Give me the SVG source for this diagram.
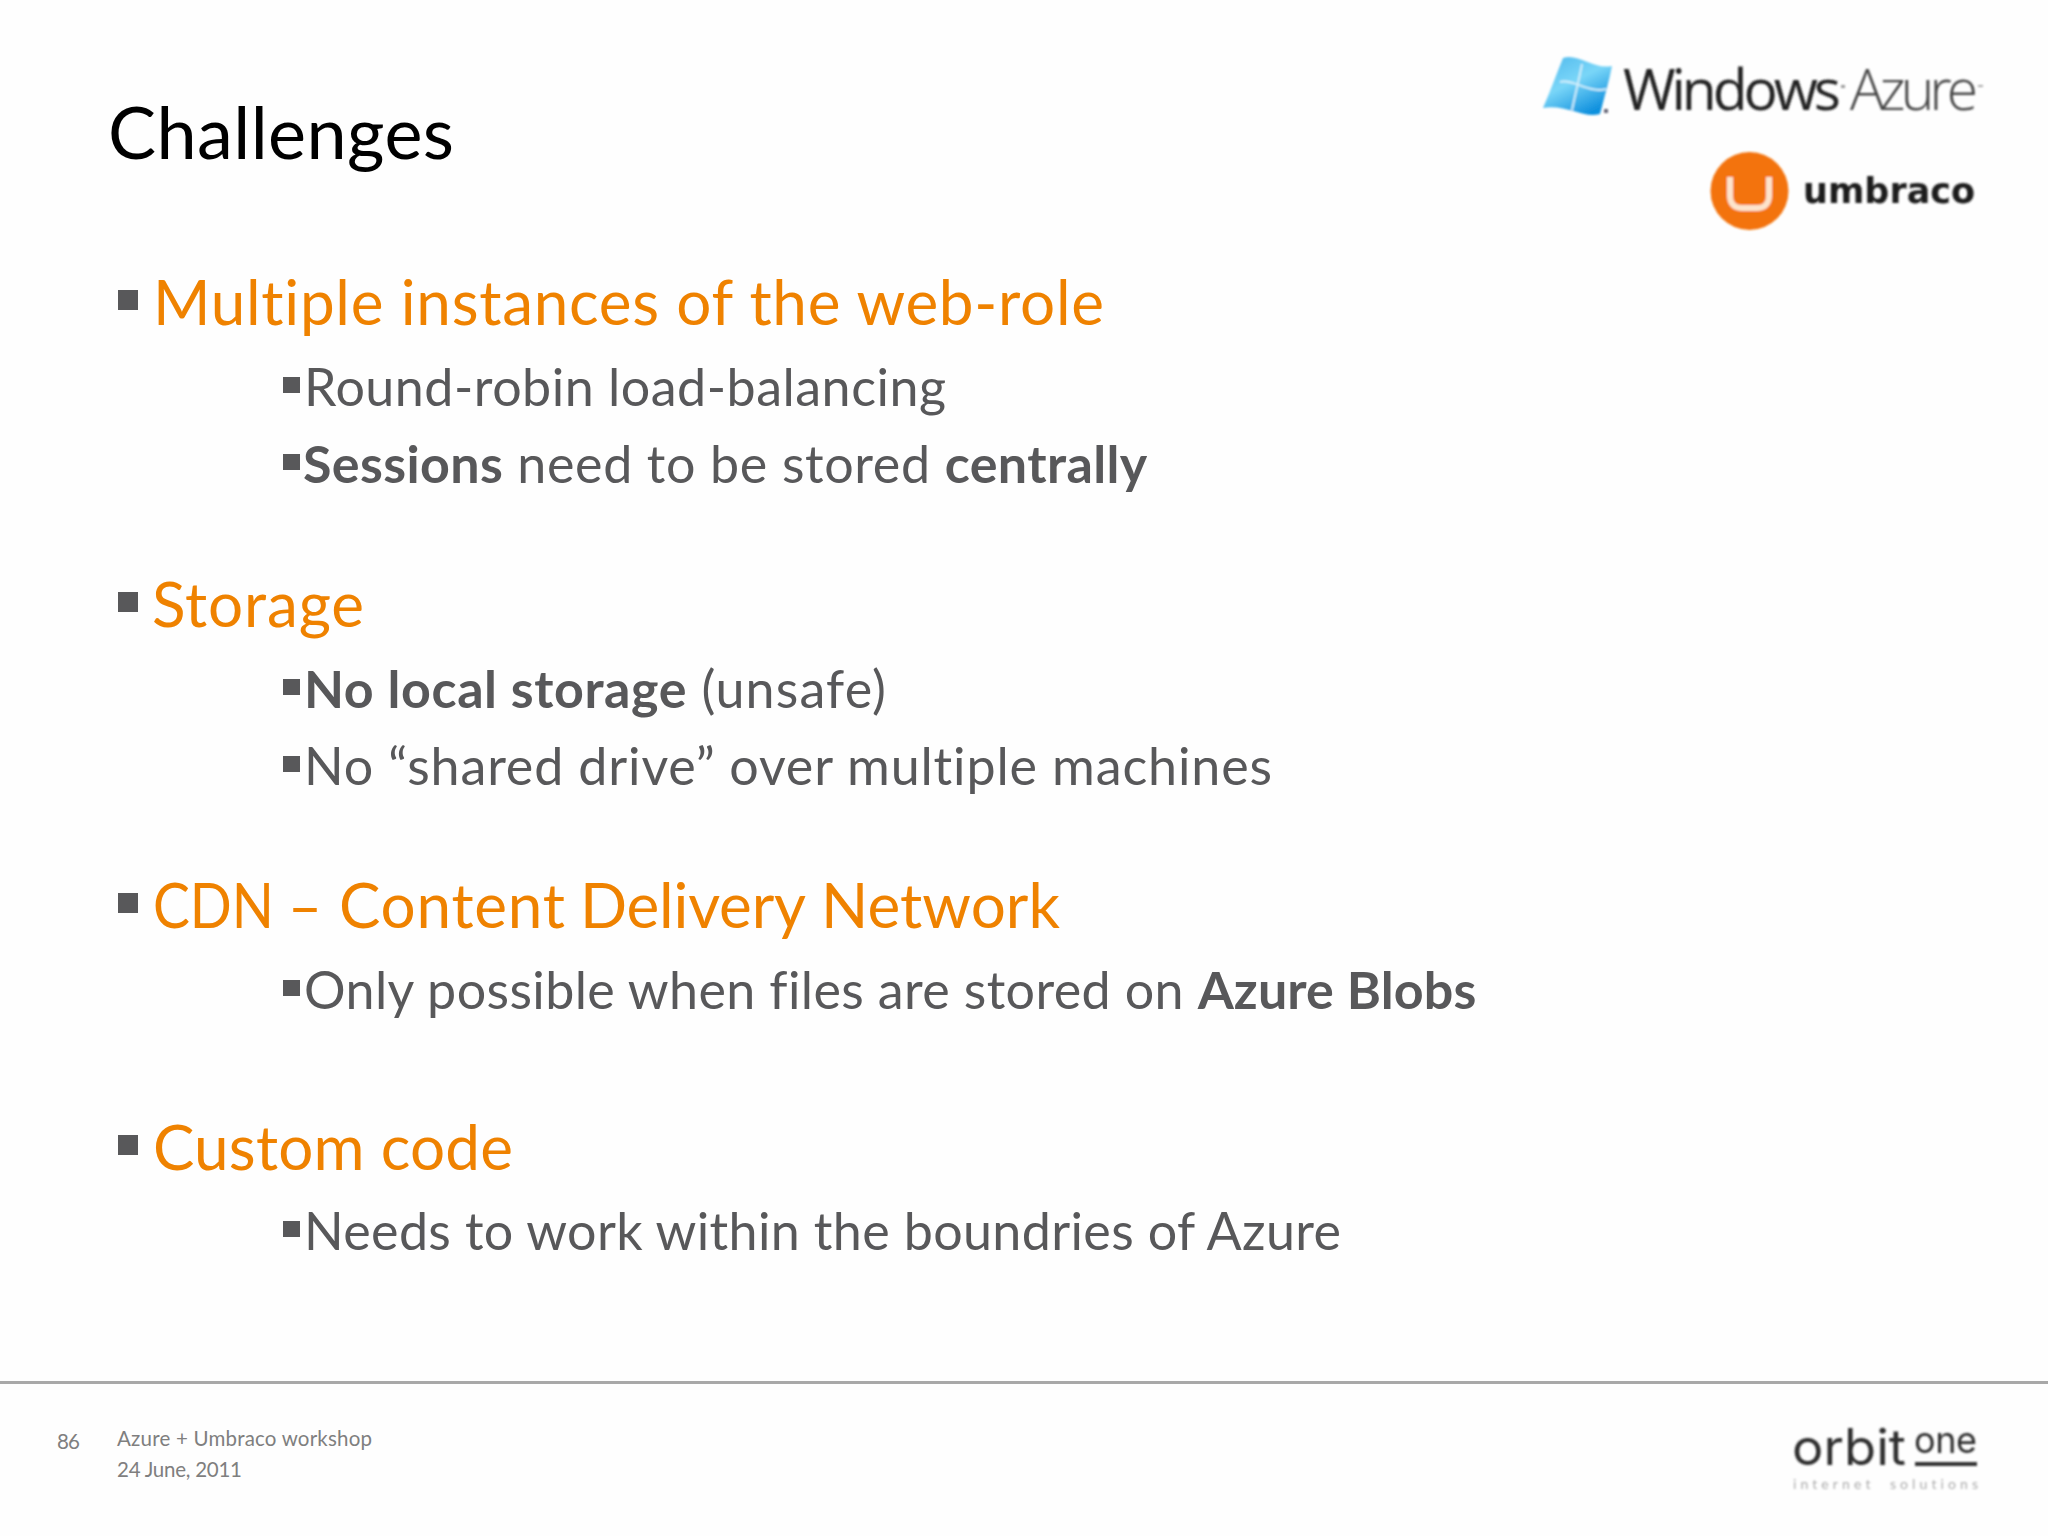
<svg xmlns="http://www.w3.org/2000/svg" width="2048" height="1536" viewBox="0 0 2048 1536">
<style>
text{font-family:"Lato","Carlito","Liberation Sans",sans-serif;white-space:pre;font-variant-ligatures:none}
.h{font-size:62px;fill:#ef8200}
.s{font-size:52px;fill:#58585a}
.b{font-weight:700;letter-spacing:-0.25px}
.b2{font-weight:700;letter-spacing:-0.6px}
.bh{fill:#58585a}
.f{font-size:20.5px;fill:#7f7f7f}
</style>
<defs>
<linearGradient id="flag" x1="0" y1="0" x2="0.6" y2="1"><stop offset="0" stop-color="#4fb8ec"/><stop offset="0.5" stop-color="#7ad6f8"/><stop offset="1" stop-color="#1191de"/></linearGradient>
<filter id="soft" x="-5%" y="-10%" width="110%" height="120%"><feGaussianBlur stdDeviation="0.9"/></filter>
</defs>
<rect width="2048" height="1536" fill="#fefefe"/>
<text id="title" x="108" y="159" font-size="72" fill="#000" textLength="346">Challenges</text>
<g id="logo-azure" filter="url(#soft)">
<path d="M1563 58C1578 53 1594 70 1612 66C1609 82 1604 98 1600 114C1584 119 1566 104 1543 108C1550 92 1556 75 1563 58Z" fill="url(#flag)"/>
<path d="M1560 82C1572 78 1590 94 1606 89M1582 64C1579 80 1575 95 1572 110" fill="none" stroke="#cfeefb" stroke-width="2"/>
<rect x="1604" y="109" width="4" height="4" fill="#667"/>
<text x="1623" y="110" font-size="57" style="font-family:'Open Sans',sans-serif;font-weight:400" fill="#222" textLength="218">Windows</text>
<text x="1850" y="110" font-size="57" style="font-family:'Open Sans',sans-serif;font-weight:300" fill="#444" textLength="128">Azure</text>
<rect x="1841" y="85" width="4" height="3" fill="#999"/>
<rect x="1978" y="85" width="5" height="2" fill="#aaa"/>
</g>
<g id="logo-umbraco" filter="url(#soft)">
<circle cx="1749.5" cy="191" r="39" fill="#f37311"/>
<path d="M1730 177V196C1730 204 1735 208 1742 208H1757C1764 208 1769 204 1769 196V177" fill="none" stroke="#fde4cc" stroke-width="6"/>
<text x="1803" y="203" font-size="35" font-weight="700" style="font-family:'DejaVu Sans',sans-serif" fill="#1c1c1c" textLength="172">umbraco</text>
</g>
<g id="item-1">
<rect class="bh" x="118" y="290" width="20" height="20"/>
<text class="h" x="153" y="325" textLength="951">Multiple instances of the web-role</text>
<rect class="bh" x="283" y="377" width="17" height="16"/>
<text class="s" x="304" y="406" textLength="642">Round-robin load-balancing</text>
<rect class="bh" x="283" y="454" width="17" height="16"/>
<text class="s" x="303" y="483" textLength="844"><tspan class="b">Sessions</tspan> need to be stored <tspan class="b">centrally</tspan></text>
</g>
<g id="item-2">
<rect class="bh" x="118" y="592" width="20" height="20"/>
<text class="h" x="152" y="627" textLength="212">Storage</text>
<rect class="bh" x="283" y="679" width="17" height="16"/>
<text class="s" x="304" y="708" textLength="582"><tspan class="b2">No local storage</tspan> (unsafe)</text>
<rect class="bh" x="283" y="756" width="17" height="16"/>
<text class="s" x="304" y="785" textLength="968">No “shared drive” over multiple machines</text>
</g>
<g id="item-3">
<rect class="bh" x="118" y="893" width="20" height="20"/>
<text class="h" y="928"><tspan x="153" textLength="121" lengthAdjust="spacingAndGlyphs">CDN</tspan><tspan x="288"> </tspan><tspan x="288" textLength="34" lengthAdjust="spacingAndGlyphs">–</tspan><tspan x="339" textLength="226">Content</tspan><tspan x="580" textLength="226">Delivery</tspan><tspan x="821" textLength="239">Network</tspan></text>
<rect class="bh" x="283" y="980" width="17" height="16"/>
<text class="s" x="304" y="1009" textLength="1172">Only possible when files are stored on <tspan class="b">Azure Blobs</tspan></text>
</g>
<g id="item-4">
<rect class="bh" x="118" y="1135" width="20" height="20"/>
<text class="h" x="153" y="1170" textLength="360">Custom code</text>
<rect class="bh" x="283" y="1221" width="17" height="16"/>
<text class="s" x="304" y="1250" textLength="1037">Needs to work within the boundries of Azure</text>
</g>
<g id="footer">
<rect x="0" y="1381" width="2048" height="3" fill="#a8a8a8"/>
<text class="f" x="57" y="1449" textLength="23">86</text>
<text class="f" x="117" y="1446" textLength="255">Azure + Umbraco workshop</text>
<text class="f" x="117" y="1477" textLength="125">24 June, 2011</text>
</g>
<g id="logo-orbit" filter="url(#soft)">
<text x="1792" y="1465" font-size="50" lengthAdjust="spacingAndGlyphs" style="font-family:Inter,sans-serif;font-weight:400" fill="#2e2e2e" textLength="114">orbit</text>
<text x="1914" y="1453" font-size="36" style="font-family:Inter,sans-serif;font-weight:400" fill="#2e2e2e" textLength="63">one</text>
<rect x="1915" y="1462" width="62" height="4" fill="#333"/>
<text x="1793" y="1489" font-size="14" fill="#aaa" textLength="185">internet  solutions</text>
</g>
</svg>
